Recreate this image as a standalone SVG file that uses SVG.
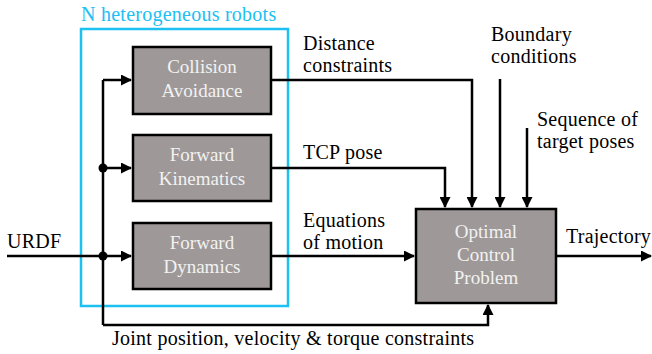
<svg xmlns="http://www.w3.org/2000/svg" width="652" height="354" viewBox="0 0 652 354">
<defs>
<marker id="ah" markerWidth="11" markerHeight="11" refX="10" refY="5.5" orient="auto" markerUnits="userSpaceOnUse">
<path d="M0,0 L11,5.5 L0,11 Z" fill="#000"/>
</marker>
<style>
.blk rect{fill:#9e9998;stroke:#000;stroke-width:2.5}
.blk text{fill:#f2f2f2;text-anchor:middle;font-size:19px}
.c{fill:none;stroke:#000;stroke-width:2.5}
.a{marker-end:url(#ah)}
.lbl{font-size:20px;letter-spacing:0.25px}
</style>
</defs>
<g font-family="Liberation Serif, serif">
<rect x="81" y="29" width="207" height="277" fill="none" stroke="#1cc0f2" stroke-width="2.5"/>
<text class="lbl" x="81" y="21" fill="#1cc0f2">N heterogeneous robots</text>
<g id="collision" class="blk"><rect x="133" y="47" width="138" height="67"/><text x="202" y="73">Collision</text><text x="202" y="97">Avoidance</text></g>
<g id="kinematics" class="blk"><rect x="133" y="135" width="138" height="66"/><text x="202" y="161">Forward</text><text x="202" y="185">Kinematics</text></g>
<g id="dynamics" class="blk"><rect x="133" y="223" width="138" height="66"/><text x="202" y="249">Forward</text><text x="202" y="273">Dynamics</text></g>
<g id="ocp" class="blk"><rect x="416" y="209" width="140" height="94"/><text x="486" y="238">Optimal</text><text x="486" y="261">Control</text><text x="486" y="284">Problem</text></g>
<g id="connectors">
<path class="c a" d="M7,256 H131"/>
<path class="c" d="M103,325 V80"/>
<path class="c a" d="M103,80 H131"/>
<path class="c a" d="M103,168 H131"/>
<circle cx="103" cy="168" r="4.5"/>
<circle cx="103" cy="256" r="4.5"/>
<path class="c a" d="M103,325 H488 V305"/>
<path class="c a" d="M271,80 H472 V207"/>
<path class="c a" d="M271,168 H445 V207"/>
<path class="c a" d="M500,79 V207"/>
<path class="c a" d="M527,128 V207"/>
<path class="c a" d="M271,256 H414"/>
<path class="c a" d="M556,256 H651"/>
</g>
<g id="labels" class="lbl">
<text x="7" y="248">URDF</text>
<text x="303" y="50">Distance</text>
<text x="303" y="72">constraints</text>
<text x="303" y="159">TCP pose</text>
<text x="303" y="227">Equations</text>
<text x="303" y="249">of motion</text>
<text x="491" y="41">Boundary</text>
<text x="491" y="63">conditions</text>
<text x="537" y="126">Sequence of</text>
<text x="537" y="148">target poses</text>
<text x="566" y="243">Trajectory</text>
<text x="112" y="345">Joint position, velocity &amp; torque constraints</text>
</g>
</g>
</svg>
